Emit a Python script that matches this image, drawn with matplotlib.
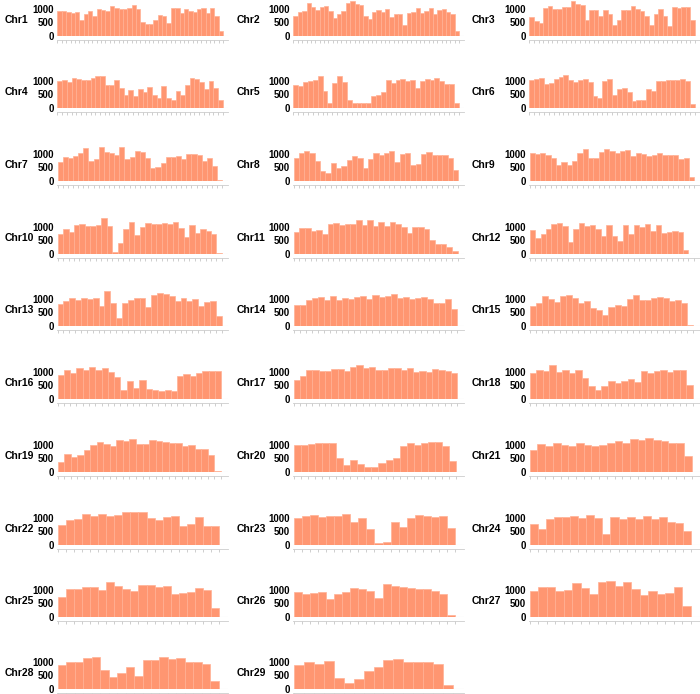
import matplotlib
matplotlib.use('Agg')
import matplotlib.pyplot as plt
import numpy as np

# SNP counts per window
chr1 = [920, 930, 880, 860, 870, 600, 820, 920, 730, 980, 950, 930, 1100, 1010, 1000, 990, 1030, 1130, 990,
        500, 450, 450, 600, 780, 720, 490, 1020, 1020, 850, 980, 910, 880, 980, 1010, 830, 1010, 720, 200]
chr2 = [740, 880, 930, 1200, 1080, 960, 1060, 1090, 930, 670, 800, 900, 1200, 1280, 1180, 1120, 730, 610, 870,
        970, 870, 990, 680, 820, 790, 420, 850, 870, 1020, 830, 930, 1020, 800, 950, 990, 880, 790, 170]
chr3 = [700, 560, 490, 1040, 1100, 1000, 1000, 1060, 1080, 1270, 1160, 1120, 600, 960, 940, 730, 950, 820, 390,
        600, 970, 950, 1090, 1000, 920, 720, 390, 820, 1000, 720, 350, 1060, 1040, 1080, 1080, 570]
chr4 = [990, 1030, 960, 1090, 1050, 1010, 1020, 1110, 1160, 1160, 830, 860, 1040, 750, 490, 660, 430, 680,
        580, 770, 480, 360, 800, 380, 280, 610, 480, 840, 1110, 1060, 940, 700, 980, 730, 290]
chr5 = [860, 820, 950, 990, 1020, 1170, 640, 200, 930, 1160, 960, 300, 190, 200, 200, 200, 430, 480, 600,
        1040, 920, 1030, 1060, 1000, 1020, 740, 990, 1080, 1010, 1100, 990, 870, 890, 190]
chr6 = [1040, 1060, 1090, 880, 920, 1070, 1120, 1210, 1010, 970, 1020, 1050, 960, 450, 370, 1000, 1070, 490,
        700, 720, 570, 240, 280, 280, 680, 640, 980, 1000, 1030, 1040, 1040, 1060, 990, 130]
chr7 = [690, 870, 850, 930, 1040, 1220, 720, 800, 1230, 1050, 1010, 960, 1240, 790, 880, 1100, 1060, 850,
        460, 520, 660, 880, 880, 930, 790, 1000, 1000, 950, 730, 840, 560, 20]
chr8 = [830, 1030, 1110, 1040, 740, 370, 310, 660, 490, 560, 770, 900, 860, 470, 800, 1040, 970, 1010, 1100,
        700, 990, 1040, 580, 620, 1000, 1050, 950, 940, 970, 840, 390]
chr9 = [1030, 1000, 1010, 940, 860, 600, 680, 600, 720, 1010, 1170, 850, 860, 1070, 1190, 1110, 1010, 1100,
        1120, 930, 1040, 990, 900, 970, 1030, 950, 970, 960, 820, 850, 150]
chr10 = [740, 900, 820, 1080, 1100, 1040, 1010, 1070, 1310, 1040, 80, 400, 900, 1170, 710, 1000, 1120, 1090,
         1090, 1150, 1100, 1190, 950, 610, 1050, 760, 920, 850, 750, 40]
chr11 = [800, 970, 970, 850, 880, 720, 1110, 1130, 1060, 1090, 1090, 1240, 1070, 1230, 1040, 1160, 1030, 1160,
         1100, 990, 780, 1000, 1000, 920, 500, 370, 360, 260, 110]
chr12 = [890, 570, 740, 910, 1110, 1150, 1030, 450, 900, 1140, 1010, 1050, 920, 660, 1070, 670, 490, 1080,
         740, 1070, 1000, 1100, 850, 1050, 770, 790, 840, 800, 150, 10]
chr13 = [790, 930, 1030, 960, 1020, 1000, 1030, 720, 1300, 860, 290, 850, 960, 1030, 1010, 700, 1130, 1200,
         1160, 1100, 920, 1010, 930, 990, 720, 880, 910, 350]
chr14 = [770, 770, 970, 1020, 1050, 940, 1100, 970, 1040, 990, 1070, 1110, 990, 1130, 1080, 1110, 1160, 1010,
         1080, 990, 1010, 1070, 990, 830, 840, 980, 620]
chr15 = [730, 840, 1110, 1000, 880, 1090, 1130, 1030, 860, 900, 670, 580, 410, 700, 760, 720, 980, 1130, 960,
         960, 1030, 1070, 1020, 930, 960, 860, 40]
chr16 = [870, 1060, 970, 1140, 1080, 1160, 1050, 1130, 980, 810, 340, 660, 410, 680, 350, 340, 290, 340, 290,
         840, 930, 830, 940, 1040, 1030, 1010]
chr17 = [700, 860, 1060, 1050, 1010, 1010, 1090, 1090, 1030, 1160, 1260, 1150, 1160, 1060, 1050, 1120, 1120,
         1080, 1130, 1000, 1030, 1000, 1100, 1060, 1010, 940]
chr18 = [940, 1080, 1030, 1230, 990, 1070, 970, 1070, 780, 460, 330, 480, 660, 600, 660, 720, 610, 1020, 970,
         1010, 1050, 1000, 1080, 1080, 500]
chr19 = [370, 660, 560, 630, 820, 990, 1110, 1040, 960, 1170, 1140, 1200, 1040, 1020, 1190, 1120, 1090, 1060,
         1050, 970, 1000, 860, 860, 610, 50]
chr20 = [980, 980, 1020, 1080, 1060, 1080, 520, 250, 440, 280, 200, 200, 340, 440, 510, 960, 1080, 1000, 1050,
         1100, 1100, 940, 410]
chr21 = [790, 1010, 950, 1080, 990, 960, 1060, 980, 960, 990, 1050, 1150, 1070, 1200, 1190, 1250, 1170, 1140,
         1080, 1060, 590]
chr22 = [720, 920, 940, 1130, 1060, 1130, 1070, 1100, 1200, 1200, 1220, 990, 910, 1040, 1080, 700, 780, 1020,
         700, 700]
chr23 = [980, 1050, 1110, 1020, 1060, 1050, 1150, 860, 980, 600, 60, 110, 850, 660, 1000, 1110, 1060, 1030,
         1080, 630]
chr24 = [760, 580, 970, 1030, 1010, 1060, 1000, 1090, 980, 420, 1040, 940, 1040, 950, 1060, 950, 1010, 830,
         800, 520]
chr25 = [740, 1020, 1020, 1090, 1090, 980, 1280, 1140, 1040, 950, 1170, 1180, 1100, 1130, 830, 870, 920, 1060,
         990, 320]
chr26 = [920, 850, 880, 920, 660, 830, 910, 1080, 1010, 960, 690, 1220, 1120, 1090, 1060, 1010, 1010, 940,
         860, 80]
chr27 = [960, 1090, 1100, 970, 1000, 1240, 1050, 850, 1270, 1310, 1150, 1290, 1040, 790, 970, 860, 890, 1090,
         410]
chr28 = [880, 980, 980, 1140, 1170, 700, 440, 600, 810, 470, 1050, 1050, 1170, 1100, 1130, 1000, 1000, 930,
         290]
chr29 = [890, 990, 900, 1040, 410, 230, 360, 670, 790, 1080, 1100, 990, 1000, 990, 920, 160]

counts = [chr1, chr2, chr3, chr4, chr5, chr6, chr7, chr8, chr9, chr10, chr11, chr12, chr13, chr14, chr15,
          chr16, chr17, chr18, chr19, chr20, chr21, chr22, chr23, chr24, chr25, chr26, chr27, chr28, chr29]
names = ['Chr%d' % (i + 1) for i in range(len(counts))]
yticks = [0, 500, 1000]

W, H = 700, 694
fig = plt.figure(figsize=(W / 100, H / 100), dpi=100)
plt.rcParams['font.family'] = ['Liberation Sans', 'DejaVu Sans']

col_axis = [57, 293, 529]    # px, left edge of each column of axes
col_label = [5, 237, 472]    # px, left edge of the Chr labels
row_zero = [36, 108, 181, 254, 326, 399, 472, 545, 617, 689]   # px, y of the zero line
ax_w, ax_h = 171, 36
ymax = 1320

for i, (name, vals) in enumerate(zip(names, counts)):
    r, c = divmod(i, 3)
    x0 = col_axis[c] / W
    y0 = 1 - row_zero[r] / H
    ax = fig.add_axes([x0, y0, ax_w / W, ax_h / H])
    n = len(vals)
    ax.bar(np.arange(n), vals, width=1.0, color='#FF9671', edgecolor='#FFB195', linewidth=0.5)
    ax.set_xlim(-0.6, n + 0.6)
    ax.set_ylim(0, ymax)
    ax.set_yticks(yticks)
    ax.set_yticklabels([str(t) for t in yticks], fontsize=7, fontweight='bold')
    ax.set_xticks(np.arange(n + 1) - 0.5)
    ax.set_xticklabels([])
    ax.tick_params(axis='x', length=2, width=0.4, color='#aaaaaa')
    ax.tick_params(axis='y', length=0, pad=2)
    for s in ['top', 'right', 'left']:
        ax.spines[s].set_visible(False)
    ax.spines['bottom'].set_position(('outward', 3))
    ax.spines['bottom'].set_color('#cccccc')
    ax.spines['bottom'].set_linewidth(0.6)
    ax.axhline(0, color='#dddddd', lw=0.8, zorder=0)
    fig.text(col_label[c] / W, 1 - (row_zero[r] - 16) / H, name, fontsize=7.5, fontweight='bold',
             ha='left', va='center')

fig.savefig('out.png', dpi=100)
